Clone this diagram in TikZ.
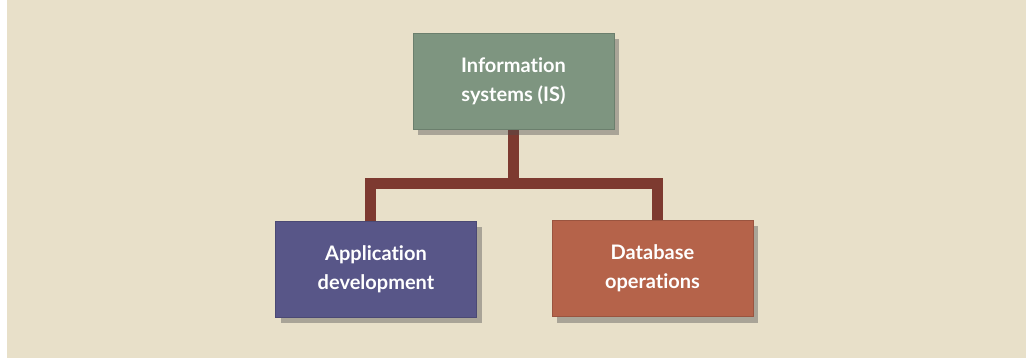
\documentclass[tikz,border=0pt]{standalone}
\usepackage{fontspec}
\setmainfont{Lato}[Ligatures=NoCommon]
\usetikzlibrary{shadows}
\pgfdeclarelayer{background}
\pgfsetlayers{background,main}
\definecolor{bg}{HTML}{E8E0C9}
\definecolor{isgreen}{HTML}{7E9580}
\definecolor{appblue}{HTML}{585688}
\definecolor{dbred}{HTML}{B5634A}
\definecolor{conn}{HTML}{7D3A30}
\tikzset{
  box/.style={rectangle, minimum width=201pt, minimum height=96pt, inner sep=0pt,
    align=center, text=white, font=\bfseries\fontsize{20}{29}\selectfont,
    draw=#1!85!black, line width=0.8pt, fill=#1,
    drop shadow={shadow xshift=5pt, shadow yshift=-6pt, opacity=0.4, fill=black!70}},
  link/.style={draw=conn, line width=11pt, line join=miter}
}
\begin{document}
\begin{tikzpicture}[x=1pt,y=-1pt]
\begin{pgfonlayer}{background}
\useasboundingbox (0,0) rectangle (1026,358);
\fill[white] (0,0) rectangle (1026,358);
\fill[bg] (7,0) rectangle (1026,358);
\end{pgfonlayer}
\node[box=isgreen] (is) at (513.5,81) {Information\\systems (IS)};
\node[box=appblue] (app) at (376,269) {Application\\development};
\node[box=dbred] (db) at (652.5,268.5) {Database\\operations};
\coordinate (j) at (513.5,184);
\coordinate (jl) at (370,184);
\coordinate (jr) at (657.5,184);
\begin{pgfonlayer}{background}
\draw[link] (is.south) -- (j);
\draw[link] (app.north -| jl) -- (jl) -- (jr) -- (db.north -| jr);
\end{pgfonlayer}
\end{tikzpicture}
\end{document}
